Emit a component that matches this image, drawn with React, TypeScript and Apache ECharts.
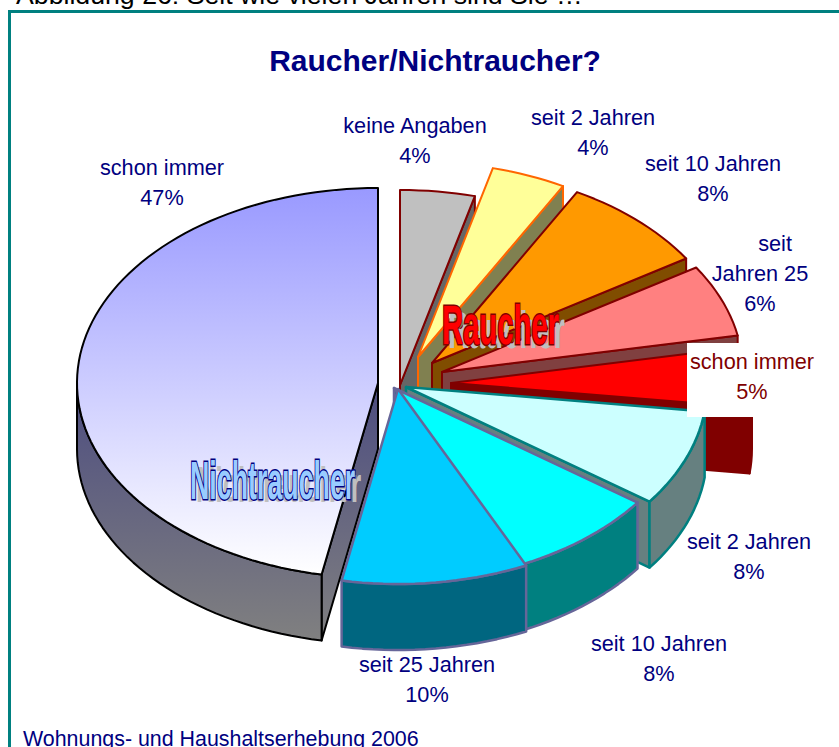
import React, { useEffect, useRef } from "react";
import * as echarts from "echarts";

const categories = ["keine Angaben", "seit 2 Jahren", "seit 10 Jahren", "seit Jahren 25", "schon immer", "seit 2 Jahren", "seit 10 Jahren", "seit 25 Jahren", "schon immer"];
const labelLines = ["keine Angaben", "seit 2 Jahren", "seit 10 Jahren", "     seit\nJahren 25", "schon immer", "seit 2 Jahren", "seit 10 Jahren", "seit 25 Jahren", "schon immer"];
const shares = [4, 4, 8, 6, 5, 8, 8, 10, 47];

const apexes = [[400, 385], [418, 357], [432, 363], [442, 372], [451, 383], [406, 387], [394, 388], [398, 389], [378, 383]];
const tops: any[] = ["#C0C0C0", "#FFFF99", "#FF9900", "#FF8080", "#FF0000", "#CCFFFF", "#00FFFF", "#00CCFF", "GRAD"];
const walls: any[] = ["#666666", "#808050", "#804D00", "#804040", "#800000", "#668080", "#008080", "#006680", "GRAD"];
const strokes = ["#800000", "#FF6600", "#800000", "#800000", "#800000", "#008080", "#666699", "#666699", "#000000"];
const strokeWidths = [2, 2, 2, 2, 2, 2.5, 2.5, 2.5, 2];
const labelXs = [415, 593, 713, 760, 752, 749, 659, 427, 162];
const labelYs = [140, 132, 178, 273, 376, 556, 658, 679, 182];

const RX = 301;
const RY = 195;
const DEPTH = 66;

function pt(a: number[], deg: number, dy = 0): number[] {
  const r = (deg * Math.PI) / 180;
  return [a[0] + RX * Math.sin(r), a[1] - RY * Math.cos(r) + dy];
}
function arc(a: number[], s: number, e: number, dy = 0): number[][] {
  const out: number[][] = [];
  const n = Math.max(2, Math.ceil((e - s) / 2));
  for (let i = 0; i <= n; i++) out.push(pt(a, s + ((e - s) * i) / n, dy));
  return out;
}

export default function App() {
  const ref = useRef<HTMLDivElement>(null);
  useEffect(() => {
    const chart = echarts.init(ref.current!, undefined, { renderer: "svg" });
    const total = shares.reduce((p, c) => p + c, 0);
    const starts: number[] = [];
    shares.reduce((p, c) => {
      starts.push(p);
      return p + c;
    }, 0);
    const topGrad = new echarts.graphic.LinearGradient(0, 188, 0, 575, [
      { offset: 0, color: "#9999FF" },
      { offset: 1, color: "#FFFFFF" },
    ], true);
    const wallGrad = new echarts.graphic.LinearGradient(0, 385, 0, 640, [
      { offset: 0, color: "#4D4D80" },
      { offset: 1, color: "#808080" },
    ], true);
    const renderSlice = (params: any, api: any) => {
      const i = params.dataIndex;
      const val = api.value(1);
      const s = (starts[i] / total) * 360;
      const e = s + (val / total) * 360;
      const a = apexes[i];
      const wallFill = walls[i] === "GRAD" ? wallGrad : walls[i];
      const topFill = tops[i] === "GRAD" ? topGrad : tops[i];
      const common = { stroke: strokes[i], lineWidth: strokeWidths[i], lineJoin: "round" };
      const children: any[] = [];
      const radial = (deg: number) => [[a[0], a[1]], pt(a, deg), pt(a, deg, DEPTH), [a[0], a[1] + DEPTH]];
      if (s >= 180 && s < 360) {
        children.push({ type: "polygon", shape: { points: radial(s) }, style: { fill: wallFill, ...common } });
      }
      if (e > 0 && e <= 180) {
        children.push({ type: "polygon", shape: { points: radial(e) }, style: { fill: wallFill, ...common } });
      }
      const ws = Math.max(s, 90);
      const we = Math.min(e, 270);
      if (we > ws) {
        const upper = arc(a, ws, we);
        const lower = arc(a, ws, we, DEPTH).reverse();
        children.push({ type: "polygon", shape: { points: upper.concat(lower) }, style: { fill: wallFill, ...common } });
      }
      children.push({
        type: "polygon",
        shape: { points: [[a[0], a[1]], ...arc(a, s, e)] },
        style: { fill: topFill, ...common },
      });
      return { type: "group", children };
    };
    const renderLabel = (params: any, api: any) => {
      const i = params.dataIndex;
      const val = api.value(1);
      const children: any[] = [];
      if (i === 4) {
        children.push({ type: "rect", shape: { x: 687, y: 343, width: 131, height: 74 }, style: { fill: "#FFFFFF" } });
      }
      children.push({
        type: "text",
        style: {
          text: `${labelLines[i]}\n${val}%`,
          x: labelXs[i],
          y: labelYs[i],
          align: "center",
          verticalAlign: "middle",
          fontFamily: "Liberation Sans",
          fontSize: 21.7,
          lineHeight: 30,
          fill: i === 4 ? "#800000" : "#000080",
        },
      });
      return { type: "group", children };
    };
    const wordArt = (text: string, x: number, y: number, sx: number, sy: number, fill: string, stroke: string) => [
      {
        type: "text",
        x: x + 6,
        y: y + 7,
        scaleX: sx,
        scaleY: sy * 0.92,
        z: 20,
        style: { text, fontFamily: "Liberation Sans", fontWeight: "bold", fontSize: 40, fill: "#BFBFBF", verticalAlign: "top" },
      },
      {
        type: "text",
        x,
        y,
        scaleX: sx,
        scaleY: sy,
        z: 21,
        style: { text, fontFamily: "Liberation Sans", fontWeight: "bold", fontSize: 40, fill, stroke, lineWidth: 2.2, verticalAlign: "top" },
      },
    ];
    chart.setOption({
      animation: false,
      backgroundColor: "#FFFFFF",
      title: {
        text: "Raucher/Nichtraucher?",
        left: 430,
        top: 40,
        textAlign: "center",
        textStyle: { fontFamily: "Liberation Sans", fontWeight: "bold", fontSize: 30, color: "#000080" },
      },
      graphic: [
        {
          type: "text",
          x: 16,
          y: 8,
          style: { text: "Abbildung 26: Seit wie vielen Jahren sind Sie …", fontFamily: "Liberation Sans", fontSize: 26.7, fill: "#000000", verticalAlign: "bottom" },
        },
        {
          type: "polyline",
          shape: { points: [[839, 11.5], [9.5, 11.5], [9.5, 747]] },
          style: { stroke: "#008080", lineWidth: 3, fill: "none" },
        },
        {
          type: "text",
          x: 23,
          y: 728,
          style: { text: "Wohnungs- und Haushaltserhebung 2006", fontFamily: "Liberation Sans", fontSize: 21.4, fill: "#000080", verticalAlign: "top" },
        },
        ...wordArt("Raucher", 442, 297, 0.73, 1.4, "#FF0000", "#800000"),
        ...wordArt("Nichtraucher", 190, 453, 0.67, 1.35, "#99CCFF", "#000080"),
      ],
      series: [
        {
          type: "custom",
          coordinateSystem: "none",
          data: shares.map((v, i) => ({ name: categories[i], value: [i, v] })),
          renderItem: renderSlice,
          z: 2,
        },
        {
          type: "custom",
          coordinateSystem: "none",
          data: shares.map((v, i) => ({ name: categories[i], value: [i, v] })),
          renderItem: renderLabel,
          z: 3,
        },
      ],
    });
    return () => chart.dispose();
  }, []);
  return <div ref={ref} style={{ position: "absolute", left: 0, top: 0, width: 839, height: 747 }} />;
}
